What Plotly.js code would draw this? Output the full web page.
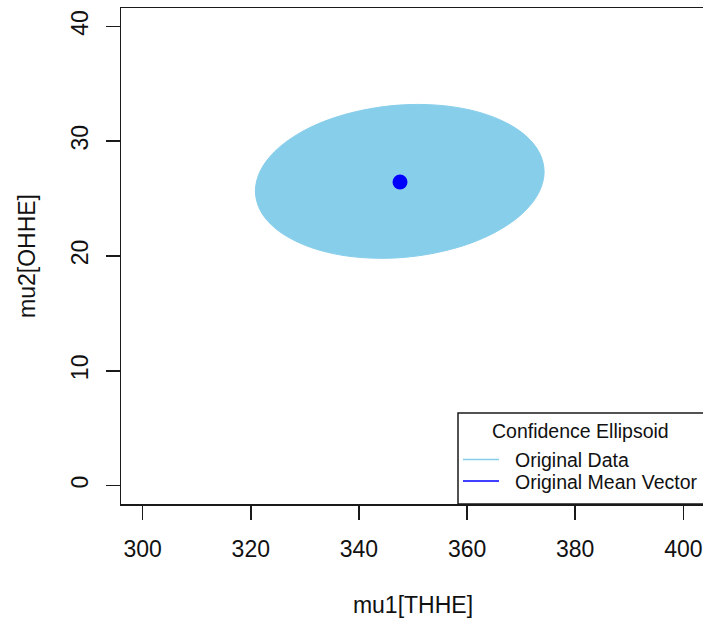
<!DOCTYPE html>
<html>
<head>
<meta charset="utf-8">
<script src="https://cdn.plot.ly/plotly-3.0.1.min.js"></script>
<style>
  html, body { margin: 0; padding: 0; overflow: hidden; background: #fff; }
  #chart { width: 708px; height: 625px; }
</style>
</head>
<body>
<div id="chart"></div>
<script>
// Boundary of the confidence ellipse for (mu1, mu2)
var ellipseX = [374.25, 373.34, 370.67, 366.43, 360.90, 354.46, 347.55, 340.64,
                334.20, 328.67, 324.43, 321.76, 320.85, 321.76, 324.43, 328.67,
                334.20, 340.64, 347.55, 354.46, 360.90, 366.43, 370.67, 373.34, 374.25];
var ellipseY = [27.34, 29.03, 30.55, 31.79, 32.68, 33.14, 33.15, 32.70,
                31.84, 30.61, 29.10, 27.41, 25.66, 23.97, 22.45, 21.21,
                20.32, 19.86, 19.85, 20.30, 21.16, 22.39, 23.90, 25.59, 27.34];

// Sample mean vector
var meanX = [347.6];
var meanY = [26.44];

// Axis ticks
var xTicks = [300, 320, 340, 360, 380, 400];
var yTicks = [0, 10, 20, 30, 40];

// Legend text
var legendTitle = 'Confidence Ellipsoid';
var legendNames = ['Original Data', 'Original Mean Vector'];

var SKY = '#87CEEB';
var BLUE = '#0000FF';
var INK = '#1a1a1a';
var FONT = 'Liberation Sans, Arial, sans-serif';

// plot box in page pixels
var L = 121, R = 705, T = 8, B = 504;
function px(x) { return (x - L) / (R - L); }
function py(y) { return (B - y) / (B - T); }

var traces = [
  {
    x: ellipseX, y: ellipseY,
    type: 'scatter', mode: 'lines',
    fill: 'toself', fillcolor: SKY,
    line: { color: SKY, width: 1, shape: 'spline', smoothing: 1 },
    name: legendNames[0], showlegend: false, hoverinfo: 'skip'
  },
  {
    x: meanX, y: meanY,
    type: 'scatter', mode: 'markers',
    marker: { color: BLUE, size: 15, line: { width: 0 } },
    name: legendNames[1], showlegend: false, hoverinfo: 'skip'
  }
];

var axisCommon = {
  showgrid: false, zeroline: false,
  showline: true, mirror: true, linecolor: INK, linewidth: 1.5,
  ticks: 'outside', ticklen: 14, tickwidth: 1.5, tickcolor: INK,
  tickfont: { family: FONT, size: 23, color: '#111' },
  fixedrange: true
};

var layout = {
  width: 708, height: 625,
  margin: { l: L, r: 708 - R, t: T, b: 625 - B },
  paper_bgcolor: '#fff', plot_bgcolor: '#fff',
  showlegend: false,
  xaxis: Object.assign({}, axisCommon, {
    range: [296, 404],
    tickmode: 'array', tickvals: xTicks, ticktext: xTicks.map(String),
    ticklabelstandoff: 10,
    title: { text: 'mu1[THHE]', font: { family: FONT, size: 23, color: '#111' }, standoff: 36 }
  }),
  yaxis: Object.assign({}, axisCommon, {
    range: [-1.6, 41.6],
    tickmode: 'array', tickvals: yTicks, ticktext: yTicks.map(String),
    tickangle: -90,
    ticklabelstandoff: 8,
    title: { text: 'mu2[OHHE]', font: { family: FONT, size: 23, color: '#111' }, standoff: 25 }
  }),
  shapes: [
    { type: 'rect', xref: 'paper', yref: 'paper',
      x0: px(458), x1: px(712), y0: py(504), y1: py(413),
      line: { color: INK, width: 1.5 }, fillcolor: '#fff' },
    { type: 'line', xref: 'paper', yref: 'paper',
      x0: px(463), x1: px(499), y0: py(459.5), y1: py(459.5),
      line: { color: SKY, width: 1.5 } },
    { type: 'line', xref: 'paper', yref: 'paper',
      x0: px(463), x1: px(499), y0: py(481), y1: py(481),
      line: { color: BLUE, width: 1.5 } }
  ],
  annotations: [
    { xref: 'paper', yref: 'paper', x: px(580), y: py(431), text: legendTitle,
      showarrow: false, xanchor: 'center', yanchor: 'middle',
      font: { family: FONT, size: 19.5, color: '#111' } },
    { xref: 'paper', yref: 'paper', x: px(513), y: py(460), text: legendNames[0],
      showarrow: false, xanchor: 'left', yanchor: 'middle',
      font: { family: FONT, size: 19.5, color: '#111' } },
    { xref: 'paper', yref: 'paper', x: px(513), y: py(482), text: legendNames[1],
      showarrow: false, xanchor: 'left', yanchor: 'middle',
      font: { family: FONT, size: 19.5, color: '#111' } }
  ]
};

Plotly.newPlot('chart', traces, layout, { staticPlot: true, displayModeBar: false });
</script>
</body>
</html>
